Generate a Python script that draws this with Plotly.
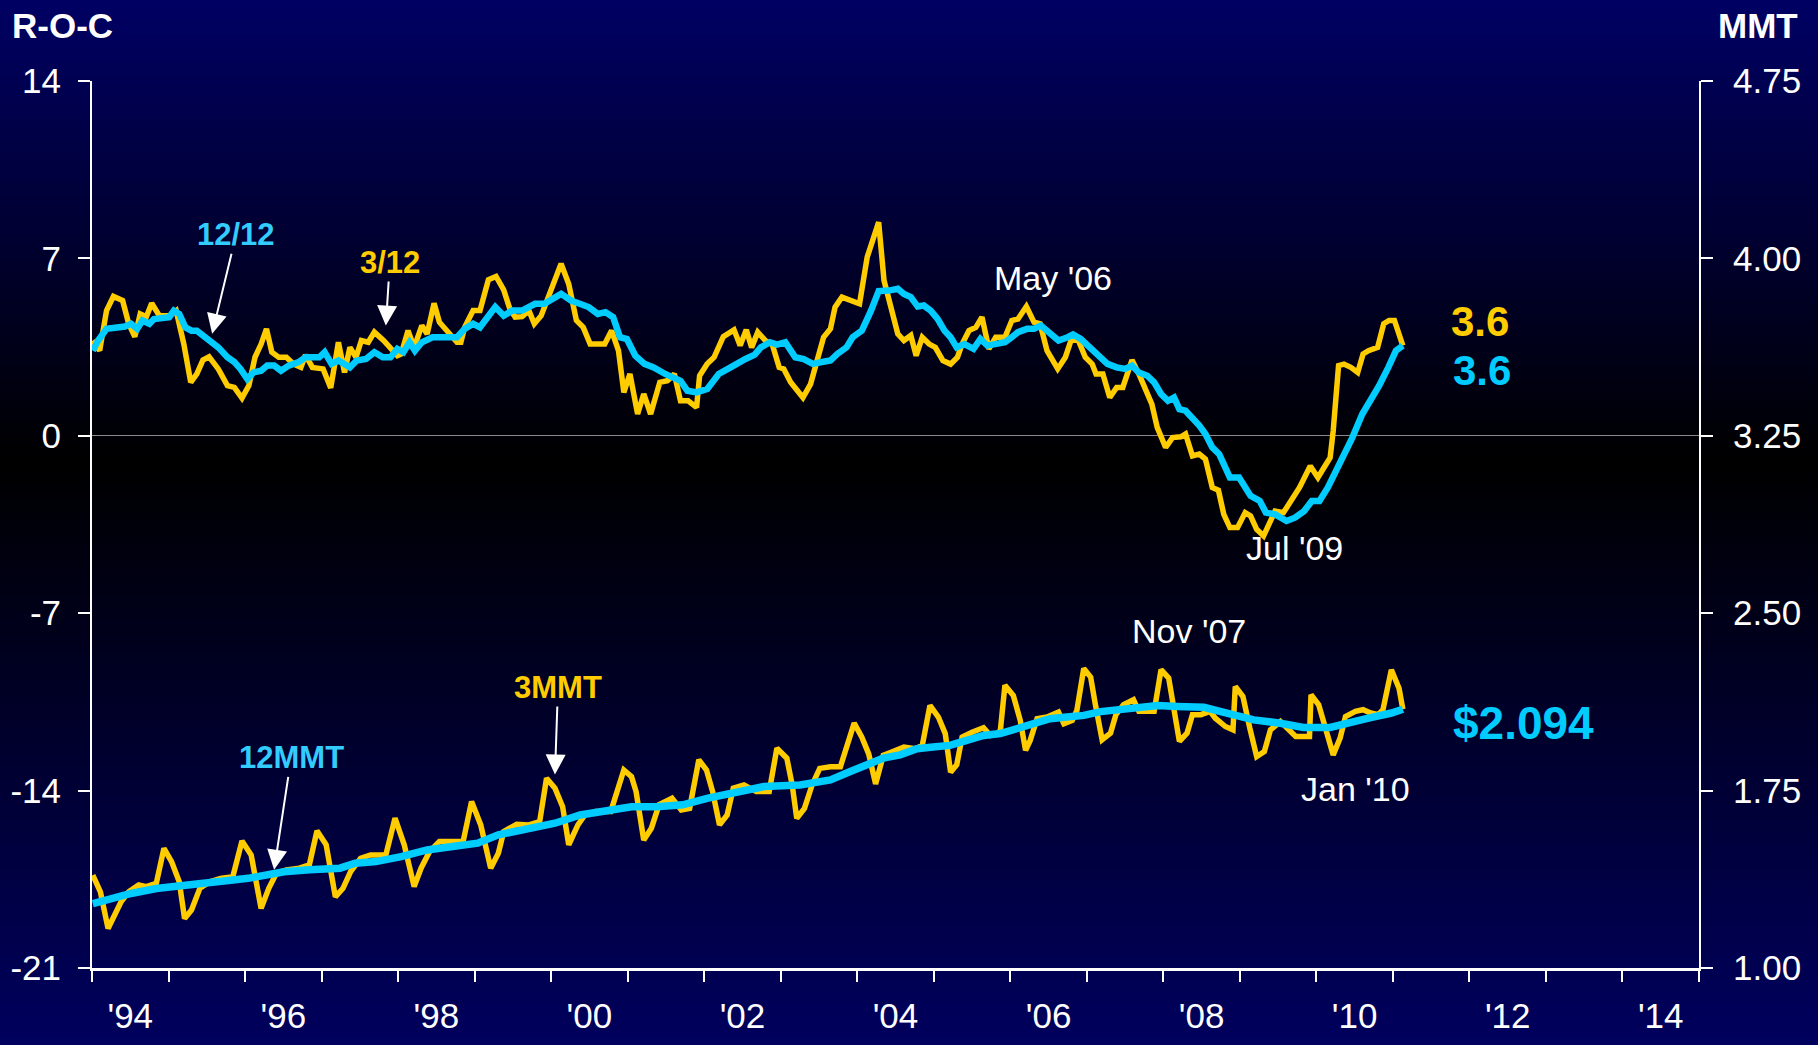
import plotly.graph_objects as go

# ---------------- DATA ----------------
# Upper panel, left axis (R-O-C): 3/12 rate of change (yellow)
roc3_x = [1994.01, 1994.10, 1994.19, 1994.28, 1994.40, 1994.48, 1994.56, 1994.63, 1994.71, 1994.78,
          1994.88, 1995.01, 1995.10, 1995.20, 1995.29, 1995.37, 1995.45, 1995.53, 1995.65, 1995.77,
          1995.86, 1995.96, 1996.05, 1996.13, 1996.21, 1996.28, 1996.35, 1996.44, 1996.54, 1996.63,
          1996.73, 1996.79, 1996.88, 1997.02, 1997.12, 1997.22, 1997.30, 1997.37, 1997.45, 1997.52,
          1997.61, 1997.69, 1997.81, 1997.90, 1997.99, 1998.04, 1998.13, 1998.21, 1998.31, 1998.38,
          1998.47, 1998.54, 1998.64, 1998.77, 1998.82, 1998.87, 1998.98, 1999.07, 1999.18, 1999.28,
          1999.38, 1999.46, 1999.53, 1999.62, 1999.71, 1999.78, 1999.87, 1999.96, 2000.04, 2000.13,
          2000.23, 2000.33, 2000.42, 2000.51, 2000.61, 2000.70, 2000.79, 2000.88, 2000.95, 2001.03,
          2001.13, 2001.21, 2001.30, 2001.42, 2001.52, 2001.61, 2001.69, 2001.79, 2001.90, 2001.94,
          2002.04, 2002.13, 2002.25, 2002.39, 2002.47, 2002.55, 2002.62, 2002.70, 2002.80, 2002.89,
          2002.98, 2003.04, 2003.13, 2003.21, 2003.29, 2003.39, 2003.48, 2003.56, 2003.65, 2003.71,
          2003.80, 2003.91, 2004.03, 2004.13, 2004.21, 2004.28, 2004.35, 2004.44, 2004.53, 2004.61,
          2004.70, 2004.77, 2004.85, 2004.94, 2005.02, 2005.12, 2005.22, 2005.31, 2005.37, 2005.46,
          2005.55, 2005.63, 2005.72, 2005.81, 2005.93, 2006.02, 2006.10, 2006.21, 2006.31, 2006.39,
          2006.48, 2006.62, 2006.72, 2006.80, 2006.89, 2006.98, 2007.07, 2007.12, 2007.21, 2007.30,
          2007.39, 2007.47, 2007.59, 2007.68, 2007.76, 2007.85, 2007.92, 2008.03, 2008.12, 2008.23,
          2008.29, 2008.38, 2008.47, 2008.55, 2008.64, 2008.72, 2008.79, 2008.87, 2008.97, 2009.07,
          2009.14, 2009.22, 2009.31, 2009.38, 2009.46, 2009.57, 2009.67, 2009.78, 2009.92, 2010.02,
          2010.10, 2010.18, 2010.22, 2010.29, 2010.36, 2010.45, 2010.54, 2010.61, 2010.68, 2010.80,
          2010.88, 2010.95, 2011.02, 2011.13]
roc3_y = [3.76, 3.36, 4.94, 5.50, 5.34, 4.42, 3.91, 4.81, 4.70, 5.23,
          4.74, 4.74, 4.94, 3.62, 2.11, 2.44, 2.99, 3.12, 2.64, 1.98,
          1.91, 1.49, 1.98, 3.10, 3.62, 4.22, 3.30, 3.10, 3.10, 2.84,
          2.70, 3.19, 2.70, 2.64, 1.89, 3.69, 2.50, 3.49, 3.10, 3.76,
          3.69, 4.09, 3.76, 3.43, 3.16, 3.23, 4.15, 3.49, 4.35, 4.02,
          5.23, 4.48, 4.15, 3.69, 3.69, 4.28, 4.94, 4.94, 6.16, 6.29,
          5.76, 5.01, 4.68, 4.70, 4.94, 4.42, 4.74, 5.47, 5.99, 6.79,
          5.99, 4.55, 4.28, 3.62, 3.62, 3.62, 4.15, 3.36, 1.71, 2.44,
          0.86, 1.65, 0.86, 2.11, 2.17, 2.44, 1.38, 1.38, 1.12, 2.37,
          2.84, 3.10, 3.91, 4.18, 3.56, 4.18, 3.49, 4.09, 3.76, 3.60,
          2.70, 2.64, 2.11, 1.78, 1.51, 2.04, 3.10, 3.89, 4.22, 5.08,
          5.47, 5.34, 5.21, 7.05, 7.84, 8.43, 6.13, 5.08, 4.02, 3.76,
          3.96, 3.16, 3.89, 3.62, 3.49, 2.97, 2.83, 3.10, 3.62, 4.15,
          4.28, 4.68, 3.43, 3.89, 3.89, 4.55, 4.61, 5.10, 4.48, 4.42,
          3.36, 2.64, 3.10, 3.82, 3.76, 3.10, 2.83, 2.44, 2.44, 1.51,
          1.91, 1.91, 2.99, 2.44, 1.91, 1.25, 0.33, -0.46, -0.07, -0.04,
          0.07, -0.79, -0.72, -0.92, -2.04, -2.15, -3.10, -3.62, -3.62, -3.03,
          -3.16, -3.69, -3.95, -3.43, -2.97, -3.03, -2.57, -2.04, -1.19, -1.65,
          -1.25, -0.86, 0.20, 2.77, 2.83, 2.70, 2.50, 3.23, 3.36, 3.49,
          4.42, 4.55, 4.55, 3.56]

# Upper panel, left axis: 12/12 rate of change (cyan)
roc12_x = [1994.01, 1994.08, 1994.19, 1994.31, 1994.43, 1994.51, 1994.59, 1994.66, 1994.75, 1994.81,
           1994.92, 1995.01, 1995.07, 1995.14, 1995.22, 1995.30, 1995.37, 1995.48, 1995.56, 1995.65,
           1995.77, 1995.86, 1995.94, 1996.03, 1996.11, 1996.21, 1996.29, 1996.38, 1996.47, 1996.57,
           1996.70, 1996.79, 1996.88, 1996.97, 1997.04, 1997.13, 1997.22, 1997.37, 1997.46, 1997.58,
           1997.69, 1997.80, 1997.90, 1997.99, 1998.07, 1998.15, 1998.22, 1998.31, 1998.45, 1998.63,
           1998.77, 1998.87, 1998.98, 1999.07, 1999.18, 1999.27, 1999.38, 1999.49, 1999.62, 1999.71,
           1999.79, 1999.91, 2000.03, 2000.13, 2000.26, 2000.38, 2000.49, 2000.61, 2000.71, 2000.81,
           2000.90, 2000.99, 2001.10, 2001.22, 2001.34, 2001.49, 2001.58, 2001.69, 2001.78, 2001.90,
           2002.04, 2002.19, 2002.31, 2002.42, 2002.54, 2002.66, 2002.74, 2002.86, 2002.95, 2003.06,
           2003.19, 2003.30, 2003.42, 2003.54, 2003.65, 2003.74, 2003.86, 2003.94, 2004.06, 2004.18,
           2004.28, 2004.41, 2004.53, 2004.61, 2004.70, 2004.79, 2004.87, 2004.96, 2005.05, 2005.14,
           2005.22, 2005.30, 2005.40, 2005.52, 2005.61, 2005.70, 2005.81, 2005.93, 2006.02, 2006.10,
           2006.22, 2006.31, 2006.40, 2006.50, 2006.63, 2006.75, 2006.82, 2006.92, 2007.04, 2007.15,
           2007.27, 2007.39, 2007.50, 2007.59, 2007.68, 2007.79, 2007.88, 2007.97, 2008.06, 2008.14,
           2008.21, 2008.29, 2008.38, 2008.47, 2008.55, 2008.64, 2008.73, 2008.79, 2008.87, 2008.99,
           2009.08, 2009.14, 2009.26, 2009.34, 2009.46, 2009.61, 2009.72, 2009.84, 2009.94, 2010.04,
           2010.15, 2010.24, 2010.35, 2010.47, 2010.60, 2010.73, 2010.82, 2010.94, 2011.04, 2011.13]
roc12_y = [3.36, 3.76, 4.22, 4.28, 4.31, 4.42, 4.22, 4.55, 4.42, 4.61,
           4.65, 4.68, 4.94, 4.81, 4.28, 4.15, 4.15, 3.89, 3.76, 3.49,
           3.10, 2.91, 2.64, 2.24, 2.50, 2.57, 2.77, 2.77, 2.57, 2.77,
           2.91, 3.10, 3.10, 3.10, 3.30, 2.84, 2.97, 2.70, 2.97, 3.03,
           3.30, 3.10, 3.10, 3.43, 3.30, 3.69, 3.36, 3.69, 3.89, 3.89,
           3.89, 4.22, 4.42, 4.28, 4.74, 5.08, 4.74, 4.94, 4.94, 5.10,
           5.21, 5.21, 5.40, 5.60, 5.34, 5.23, 5.08, 4.81, 4.88, 4.68,
           3.89, 3.82, 3.16, 2.84, 2.70, 2.44, 2.31, 2.17, 1.78, 1.71,
           1.85, 2.44, 2.64, 2.84, 3.03, 3.20, 3.49, 3.69, 3.60, 3.69,
           3.10, 3.03, 2.84, 2.91, 2.97, 3.23, 3.49, 3.89, 4.15, 4.94,
           5.71, 5.73, 5.80, 5.60, 5.47, 5.10, 5.14, 4.94, 4.61, 4.15,
           3.89, 3.49, 3.62, 3.43, 3.82, 3.56, 3.62, 3.69, 3.89, 4.09,
           4.22, 4.22, 4.35, 4.09, 3.76, 3.89, 4.00, 3.82, 3.49, 3.16,
           2.84, 2.70, 2.64, 2.77, 2.50, 2.37, 2.11, 1.65, 1.38, 1.51,
           1.05, 0.99, 0.73, 0.40, 0.07, -0.46, -0.72, -1.12, -1.65, -1.65,
           -2.04, -2.37, -2.57, -3.03, -3.10, -3.36, -3.23, -2.97, -2.57, -2.57,
           -2.04, -1.51, -0.86, -0.07, 0.86, 1.51, 1.98, 2.70, 3.36, 3.56]

# Lower panel, right axis (MMT, $ trillions): 3MMT (yellow)
mmt3_x = [1994.01, 1994.11, 1994.21, 1994.28, 1994.38, 1994.48, 1994.61, 1994.71, 1994.84, 1994.94,
          1995.04, 1995.14, 1995.21, 1995.30, 1995.41, 1995.54, 1995.68, 1995.84, 1995.96, 1996.08,
          1996.21, 1996.31, 1996.41, 1996.54, 1996.71, 1996.84, 1996.94, 1997.06, 1997.18, 1997.28,
          1997.38, 1997.51, 1997.64, 1997.84, 1997.96, 1998.08, 1998.21, 1998.30, 1998.41, 1998.54,
          1998.71, 1998.85, 1998.96, 1999.08, 1999.21, 1999.31, 1999.38, 1999.55, 1999.71, 1999.85,
          1999.94, 2000.05, 2000.15, 2000.23, 2000.35, 2000.44, 2000.58, 2000.78, 2000.95, 2001.05,
          2001.11, 2001.21, 2001.31, 2001.41, 2001.58, 2001.70, 2001.81, 2001.93, 2002.03, 2002.11,
          2002.20, 2002.30, 2002.38, 2002.52, 2002.68, 2002.85, 2002.95, 2003.08, 2003.15, 2003.21,
          2003.31, 2003.41, 2003.51, 2003.65, 2003.78, 2003.96, 2004.06, 2004.15, 2004.24, 2004.34,
          2004.45, 2004.61, 2004.76, 2004.85, 2004.95, 2005.06, 2005.15, 2005.22, 2005.30, 2005.37,
          2005.50, 2005.65, 2005.74, 2005.83, 2005.87, 2005.93, 2006.04, 2006.13, 2006.20, 2006.26,
          2006.35, 2006.48, 2006.63, 2006.70, 2006.81, 2006.87, 2006.96, 2007.05, 2007.11, 2007.20,
          2007.31, 2007.38, 2007.48, 2007.61, 2007.68, 2007.88, 2007.97, 2008.07, 2008.21, 2008.31,
          2008.38, 2008.49, 2008.61, 2008.68, 2008.81, 2008.91, 2008.94, 2009.04, 2009.13, 2009.22,
          2009.32, 2009.40, 2009.53, 2009.63, 2009.73, 2009.91, 2009.93, 2010.03, 2010.12, 2010.22,
          2010.31, 2010.38, 2010.51, 2010.61, 2010.71, 2010.81, 2010.87, 2010.98, 2011.08, 2011.13]
mmt3_y = [1.393, 1.322, 1.167, 1.209, 1.280, 1.322, 1.351, 1.344, 1.358, 1.506,
          1.450, 1.365, 1.209, 1.245, 1.337, 1.365, 1.379, 1.386, 1.537, 1.478,
          1.252, 1.337, 1.401, 1.415, 1.422, 1.436, 1.580, 1.521, 1.301, 1.337,
          1.408, 1.464, 1.478, 1.478, 1.634, 1.521, 1.344, 1.422, 1.492, 1.535,
          1.532, 1.535, 1.704, 1.605, 1.422, 1.485, 1.577, 1.608, 1.605, 1.619,
          1.802, 1.760, 1.682, 1.521, 1.605, 1.647, 1.662, 1.662, 1.837, 1.809,
          1.746, 1.541, 1.591, 1.690, 1.718, 1.668, 1.675, 1.880, 1.837, 1.746,
          1.605, 1.647, 1.760, 1.774, 1.746, 1.746, 1.929, 1.887, 1.774, 1.633,
          1.675, 1.774, 1.844, 1.851, 1.851, 2.035, 1.976, 1.905, 1.778, 1.899,
          1.913, 1.934, 1.927, 1.941, 2.110, 2.061, 1.991, 1.828, 1.859, 1.976,
          1.997, 2.016, 1.983, 1.991, 2.004, 2.195, 2.152, 2.047, 1.920, 1.962,
          2.054, 2.061, 2.082, 2.033, 2.047, 2.089, 2.266, 2.230, 2.117, 1.965,
          1.993, 2.071, 2.113, 2.134, 2.085, 2.085, 2.261, 2.226, 1.958, 1.993,
          2.071, 2.071, 2.085, 2.056, 2.021, 2.007, 2.190, 2.148, 2.014, 1.894,
          1.915, 2.007, 2.042, 2.007, 1.979, 1.979, 2.155, 2.113, 2.014, 1.901,
          1.972, 2.063, 2.085, 2.092, 2.078, 2.071, 2.092, 2.261, 2.183, 2.094]

# Lower panel, right axis: 12MMT (cyan)
mmt12_x = [1994.01, 1994.24, 1994.51, 1994.84, 1995.17, 1995.51, 1995.84, 1996.04, 1996.31, 1996.51,
           1996.84, 1997.24, 1997.44, 1997.71, 1998.04, 1998.38, 1998.71, 1999.04, 1999.31, 1999.65,
           2000.05, 2000.38, 2000.71, 2001.05, 2001.38, 2001.72, 2002.05, 2002.38, 2002.78, 2003.25,
           2003.65, 2003.91, 2004.13, 2004.34, 2004.56, 2004.78, 2004.99, 2005.21, 2005.43, 2005.65,
           2005.87, 2006.09, 2006.30, 2006.52, 2006.74, 2006.96, 2007.18, 2007.43, 2007.68, 2007.93,
           2008.18, 2008.53, 2008.83, 2009.18, 2009.53, 2009.83, 2010.18, 2010.38, 2010.68, 2010.98,
           2011.13]
mmt12_y = [1.272, 1.293, 1.315, 1.336, 1.350, 1.365, 1.372, 1.379, 1.393, 1.407,
           1.415, 1.422, 1.443, 1.450, 1.471, 1.499, 1.514, 1.528, 1.563, 1.584,
           1.612, 1.647, 1.664, 1.682, 1.682, 1.690, 1.718, 1.739, 1.767, 1.774,
           1.795, 1.831, 1.862, 1.887, 1.901, 1.927, 1.934, 1.941, 1.962, 1.983,
           1.991, 2.012, 2.026, 2.054, 2.061, 2.068, 2.084, 2.092, 2.102, 2.110,
           2.106, 2.102, 2.078, 2.049, 2.035, 2.017, 2.017, 2.035, 2.056, 2.078,
           2.094]

year_ticks = list(range(1994, 2016))
year_label_pos = [y + 0.5 for y in range(1994, 2015, 2)]
year_labels = ["'94", "'96", "'98", "'00", "'02", "'04", "'06", "'08", "'10", "'12", "'14"]
roc_ticks = [-21, -14, -7, 0, 7, 14]
roc_labels = ["-21", "-14", "-7", "0", "7", "14"]
mmt_ticks = [1.00, 1.75, 2.50, 3.25, 4.00, 4.75]
mmt_labels = ["1.00", "1.75", "2.50", "3.25", "4.00", "4.75"]

# ---------------- STYLE ----------------
W, H = 1818, 1045
L, R, T, B = 92, 1699, 81, 968
YEL = "#FFCC00"
CYA = "#00CCFF"
FONT = "Liberation Sans Narrow, Arial Narrow, Liberation Sans, Arial, sans-serif"


def px(x):
    return (x - L) / (R - L)


def py(y):
    return (B - y) / (B - T)


fig = go.Figure()
fig.add_trace(go.Scatter(x=roc3_x, y=roc3_y, mode="lines", line=dict(color=YEL, width=5.5),
                         yaxis="y", name="3/12"))
fig.add_trace(go.Scatter(x=roc12_x, y=roc12_y, mode="lines", line=dict(color=CYA, width=6.5),
                         yaxis="y", name="12/12"))
fig.add_trace(go.Scatter(x=mmt3_x, y=mmt3_y, mode="lines", line=dict(color=YEL, width=5.5),
                         yaxis="y2", name="3MMT"))
fig.add_trace(go.Scatter(x=mmt12_x, y=mmt12_y, mode="lines", line=dict(color=CYA, width=7.5),
                         yaxis="y2", name="12MMT"))

# background gradient (navy -> black near zero line -> navy)
shapes = []
step = 5
ymid = 462
for y0 in range(0, H, step):
    yc = y0 + step / 2
    if yc < ymid:
        b = 100 * (1 - yc / ymid)
    else:
        b = 94 * (yc - ymid) / (H - ymid)
    shapes.append(dict(type="rect", xref="paper", yref="paper", layer="below",
                       x0=px(-5), x1=px(W + 5), y0=py(min(y0 + step, H) + 1), y1=py(y0),
                       fillcolor=f"rgb(0,0,{int(round(b))})", line=dict(width=0)))

tickfont = dict(family=FONT, size=35, color="white")

fig.update_layout(
    width=W, height=H,
    margin=dict(l=L, r=W - R, t=T, b=H - B, pad=0, autoexpand=False),
    paper_bgcolor="#000030",
    plot_bgcolor="rgba(0,0,0,0)",
    showlegend=False,
    shapes=shapes,
    xaxis=dict(range=[1994, 2015], showgrid=False, zeroline=False, automargin=False,
               showline=True, linecolor="white", linewidth=3,
               tickmode="array", tickvals=year_label_pos, ticktext=year_labels,
               ticks="outside", ticklen=15, tickcolor="rgba(0,0,0,0)",
               tickfont=tickfont,
               minor=dict(tickmode="array", tickvals=year_ticks, ticks="outside",
                          ticklen=11, tickwidth=2, tickcolor="white", showgrid=False)),
    yaxis=dict(range=[-21, 14], showgrid=False, zeroline=True, zerolinecolor="#8a8a8a",
               zerolinewidth=1, showline=True, linecolor="white", linewidth=2, automargin=False,
               tickmode="array", tickvals=roc_ticks, ticktext=roc_labels, ticks="outside", ticklen=12,
               tickwidth=2, tickcolor="white", tickfont=tickfont, ticklabelstandoff=10),
    yaxis2=dict(range=[1.0, 4.75], overlaying="y", side="right", anchor="x", automargin=False,
                showgrid=False, zeroline=False, showline=True, linecolor="white", linewidth=2,
                tickmode="array", tickvals=mmt_ticks, ticktext=mmt_labels,
                ticks="outside", ticklen=12, tickwidth=2, tickcolor="white",
                tickfont=tickfont, ticklabelstandoff=13),
    yaxis3=dict(range=[-21, 14], overlaying="y", side="left", anchor="x", automargin=False,
                showgrid=False, zeroline=False, showline=False,
                tickmode="array", tickvals=roc_ticks, ticks="inside", ticklen=12,
                tickwidth=2, tickcolor="white", showticklabels=False),
    yaxis4=dict(range=[1.0, 4.75], overlaying="y", side="right", anchor="x", automargin=False,
                showgrid=False, zeroline=False, showline=False,
                tickmode="array", tickvals=mmt_ticks, ticks="inside", ticklen=12,
                tickwidth=2, tickcolor="white", showticklabels=False),
)

ann = []


def text(xp, yp, s, color="white", size=34, bold=False, xanchor="center"):
    ann.append(dict(xref="paper", yref="paper", x=px(xp), y=py(yp), text=(f"<b>{s}</b>" if bold else s),
                    showarrow=False, xanchor=xanchor, yanchor="middle",
                    font=dict(family=FONT, size=size, color=color)))


# axis titles
text(10, 25, "R-O-C", size=35, bold=True, xanchor="left")
text(1800, 25, "MMT", size=35, bold=True, xanchor="right")

# plain labels
text(1053, 278, "May '06")
text(1294, 548, "Jul '09")
text(1189, 631, "Nov '07")
text(1355, 789, "Jan '10")
text(1480, 321, "3.6", color=YEL, size=42, bold=True)
text(1482, 370, "3.6", color=CYA, size=42, bold=True)
text(1523, 723, "$2.094", color=CYA, size=46, bold=True)


def arrow_label(x, y, yref, ax, ay, s, color):
    ann.append(dict(xref="x", yref=yref, x=x, y=y, ax=ax, ay=ay, axref="pixel", ayref="pixel",
                    text=f"<b>{s}</b>", showarrow=True, arrowhead=2, arrowsize=2,
                    arrowwidth=2, arrowcolor="white", standoff=0,
                    font=dict(family=FONT, size=31, color=color)))


arrow_label(1995.57, 4.03, "y", 24, -99, "12/12", "#33CCFF")
arrow_label(1997.84, 4.35, "y", 4, -63, "3/12", YEL)
arrow_label(1996.38, 1.415, "y2", 17, -112, "12MMT", "#33CCFF")
arrow_label(2000.05, 1.818, "y2", 3, -87, "3MMT", YEL)

fig.update_layout(annotations=ann)
fig.write_html(
    "out.html",
    config={"displayModeBar": False},
    post_script="document.body.style.margin='0';document.body.style.padding='0';"
                "document.body.style.overflow='hidden';document.body.style.background='#000030';",
)
